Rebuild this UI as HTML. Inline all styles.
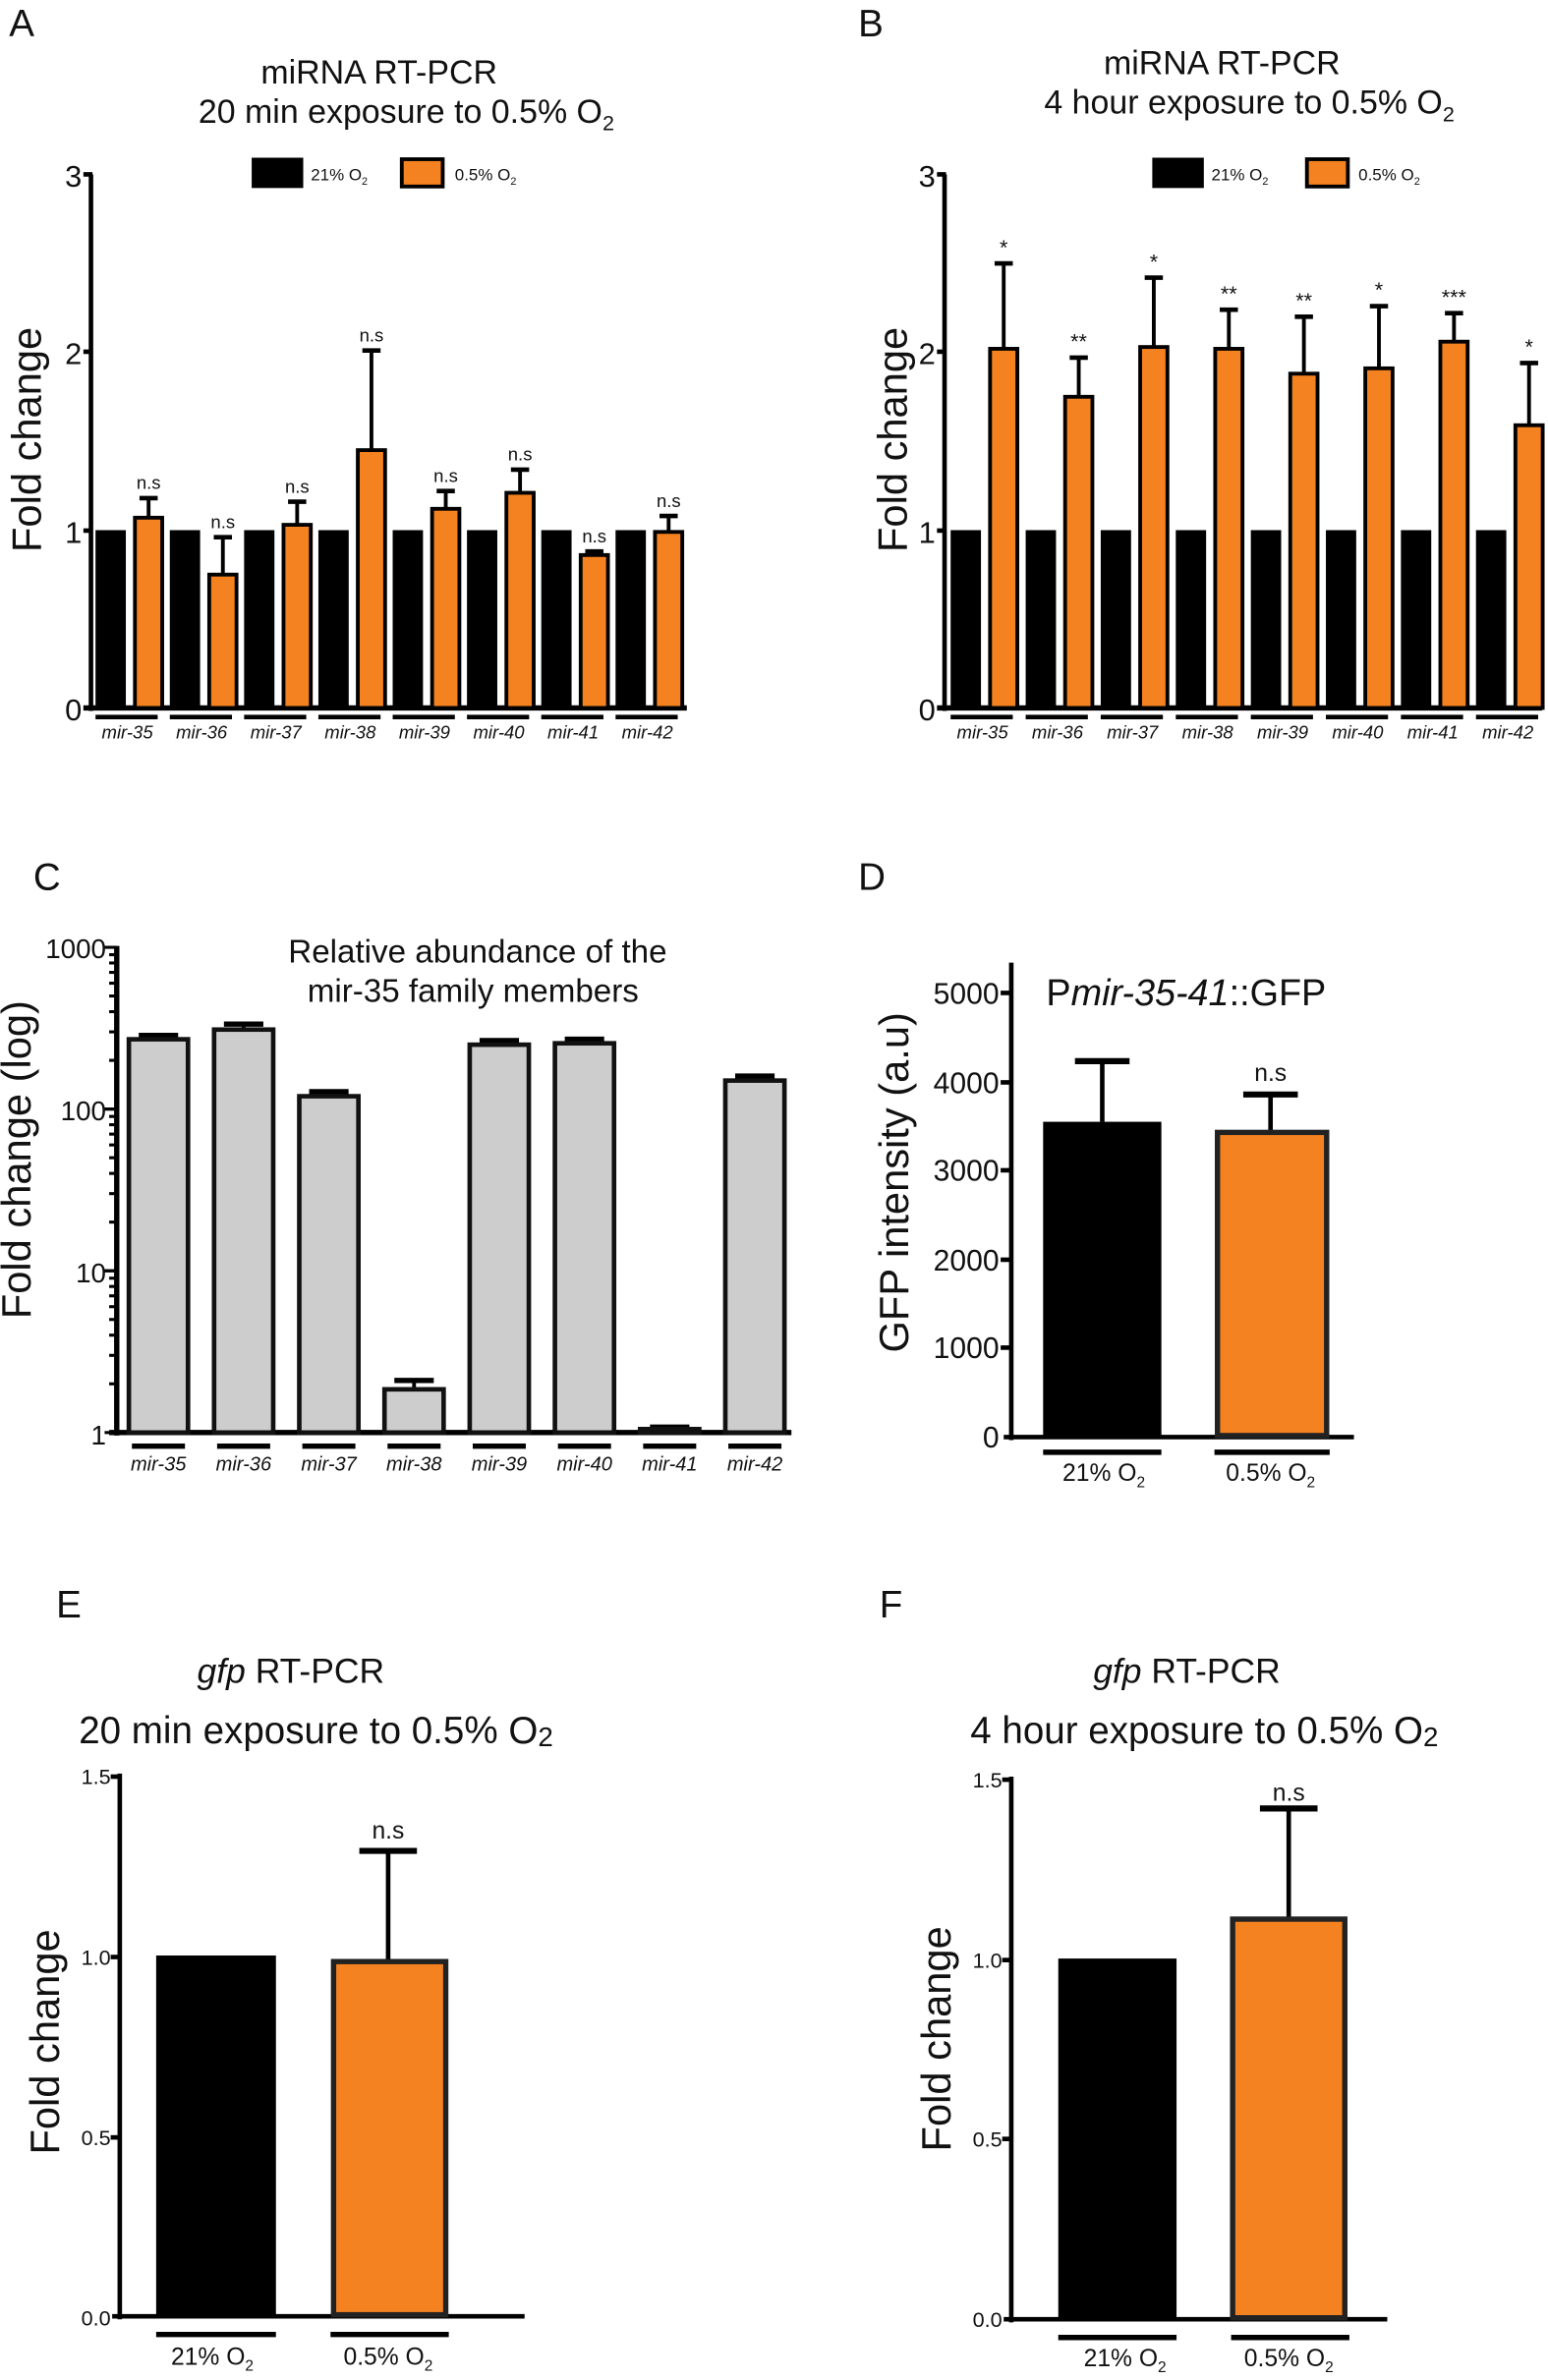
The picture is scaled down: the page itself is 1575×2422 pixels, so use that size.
<!DOCTYPE html>
<html><head><meta charset="utf-8"><style>
html,body{margin:0;padding:0;background:#fff}
svg{display:block}
text{font-family:"Liberation Sans",sans-serif;fill:#111}
.it{font-style:italic}
</style></head><body>
<svg width="1575" height="2422" viewBox="0 0 1021 1570" xmlns="http://www.w3.org/2000/svg">
<text x="6" y="24" font-size="25">A</text>
<text x="566" y="24" font-size="25">B</text>
<text x="22" y="587" font-size="25">C</text>
<text x="566" y="587" font-size="25">D</text>
<text x="37" y="1067" font-size="25">E</text>
<text x="580" y="1067" font-size="25">F</text>

<!-- ===== Panel A ===== -->
<text x="250" y="55" font-size="22" text-anchor="middle">miRNA RT-PCR</text>
<text x="268" y="81" font-size="22" text-anchor="middle">20 min exposure to 0.5% O<tspan font-size="14" dy="5">2</tspan></text>
<rect x="166" y="104" width="34" height="20" fill="#000"/>
<text x="205" y="119" font-size="11">21% O<tspan font-size="7" dy="3">2</tspan></text>
<rect x="265" y="105" width="27" height="18" fill="#f58220" stroke="#000" stroke-width="2.5"/>
<text x="300" y="119" font-size="11">0.5% O<tspan font-size="7" dy="3">2</tspan></text>
<text transform="translate(27,290) rotate(-90)" font-size="27" text-anchor="middle">Fold change</text>
<line x1="60" y1="115" x2="60" y2="469" stroke="#000" stroke-width="3"/>
<line x1="55" y1="467" x2="453" y2="467" stroke="#000" stroke-width="3.5"/>
<g stroke="#000" stroke-width="3"><line x1="55" y1="115" x2="61" y2="115"/><line x1="55" y1="232" x2="61" y2="232"/><line x1="55" y1="350" x2="61" y2="350"/></g>
<g font-size="20" text-anchor="end"><text x="54" y="123">3</text><text x="54" y="240">2</text><text x="54" y="358">1</text><text x="54" y="475">0</text></g>
<g id="barsA"></g>

<!-- ===== Panel B ===== -->
<text x="806" y="49" font-size="22" text-anchor="middle">miRNA RT-PCR</text>
<text x="824" y="75" font-size="22" text-anchor="middle">4 hour exposure to 0.5% O<tspan font-size="14" dy="5">2</tspan></text>
<rect x="760" y="104" width="34" height="20" fill="#000"/>
<text x="799" y="119" font-size="11">21% O<tspan font-size="7" dy="3">2</tspan></text>
<rect x="862" y="105" width="27" height="18" fill="#f58220" stroke="#000" stroke-width="2.5"/>
<text x="896" y="119" font-size="11">0.5% O<tspan font-size="7" dy="3">2</tspan></text>
<text transform="translate(598,290) rotate(-90)" font-size="27" text-anchor="middle">Fold change</text>
<line x1="623" y1="115" x2="623" y2="469" stroke="#000" stroke-width="3"/>
<line x1="618" y1="467" x2="1017" y2="467" stroke="#000" stroke-width="3.5"/>
<g stroke="#000" stroke-width="3"><line x1="618" y1="115" x2="624" y2="115"/><line x1="618" y1="232" x2="624" y2="232"/><line x1="618" y1="350" x2="624" y2="350"/></g>
<g font-size="20" text-anchor="end"><text x="617" y="123">3</text><text x="617" y="240">2</text><text x="617" y="358">1</text><text x="617" y="475">0</text></g>
<g id="barsB"></g>

<!-- ===== Panel C ===== -->
<text x="315" y="635" font-size="21.5" text-anchor="middle">Relative abundance of the</text>
<text x="312" y="661" font-size="21.5" text-anchor="middle">mir-35 family members</text>
<text transform="translate(20,765) rotate(-90)" font-size="27" text-anchor="middle">Fold change (log)</text>
<line x1="77" y1="624" x2="77" y2="947" stroke="#000" stroke-width="3.5"/>
<line x1="72" y1="945" x2="522" y2="945" stroke="#000" stroke-width="3.5"/>
<g id="ticksC" stroke="#000" stroke-width="2"></g>
<g font-size="18" text-anchor="end"><text x="70" y="632">1000</text><text x="70" y="739">100</text><text x="70" y="846">10</text><text x="70" y="953">1</text></g>
<g id="barsC"></g>

<!-- ===== Panel D ===== -->
<text x="690" y="663" font-size="24.5">P<tspan class="it">mir-35-41</tspan>::GFP</text>
<text transform="translate(599,780) rotate(-90)" font-size="27" text-anchor="middle">GFP intensity (a.u)</text>
<line x1="667" y1="635" x2="667" y2="950" stroke="#000" stroke-width="3"/>
<line x1="662" y1="948" x2="893" y2="948" stroke="#000" stroke-width="3"/>
<g stroke="#000" stroke-width="3">
<line x1="660" y1="655" x2="667" y2="655"/><line x1="660" y1="714" x2="667" y2="714"/><line x1="660" y1="772" x2="667" y2="772"/><line x1="660" y1="831" x2="667" y2="831"/><line x1="660" y1="889" x2="667" y2="889"/></g>
<g font-size="19.5" text-anchor="end"><text x="659" y="662">5000</text><text x="659" y="721">4000</text><text x="659" y="779">3000</text><text x="659" y="838">2000</text><text x="659" y="896">1000</text><text x="659" y="955">0</text></g>
<line x1="727" y1="740" x2="727" y2="700" stroke="#000" stroke-width="3"/><line x1="709" y1="700" x2="745" y2="700" stroke="#000" stroke-width="4"/>
<rect x="688" y="740" width="78" height="208" fill="#000"/>
<line x1="838" y1="748" x2="838" y2="722" stroke="#000" stroke-width="3"/><line x1="820" y1="722" x2="856" y2="722" stroke="#000" stroke-width="4"/>
<rect x="803" y="747" width="72" height="200" fill="#f58220" stroke="#222" stroke-width="3.5"/>
<text x="838" y="713" font-size="16" text-anchor="middle">n.s</text>
<line x1="688" y1="958" x2="766" y2="958" stroke="#000" stroke-width="3.5"/>
<line x1="801" y1="958" x2="877" y2="958" stroke="#000" stroke-width="3.5"/>
<text x="728" y="977" font-size="16" text-anchor="middle">21% O<tspan font-size="10" dy="4">2</tspan></text>
<text x="838" y="977" font-size="16" text-anchor="middle">0.5% O<tspan font-size="10" dy="4">2</tspan></text>

<!-- ===== Panel E ===== -->
<text x="130" y="1110" font-size="23"><tspan class="it">gfp</tspan> RT-PCR</text>
<text x="52" y="1150" font-size="25">20 min exposure to 0.5% O<tspan font-size="18" dy="2">2</tspan></text>
<text transform="translate(39,1347) rotate(-90)" font-size="27" text-anchor="middle">Fold change</text>
<line x1="79" y1="1170" x2="79" y2="1530" stroke="#000" stroke-width="3"/>
<line x1="74" y1="1528" x2="346" y2="1528" stroke="#000" stroke-width="3"/>
<g stroke="#000" stroke-width="3"><line x1="73" y1="1172" x2="79" y2="1172"/><line x1="73" y1="1291" x2="79" y2="1291"/><line x1="73" y1="1410" x2="79" y2="1410"/></g>
<g font-size="14" text-anchor="end"><text x="73" y="1177">1.5</text><text x="73" y="1296">1.0</text><text x="73" y="1415">0.5</text><text x="73" y="1534">0.0</text></g>
<rect x="103" y="1290" width="79" height="238" fill="#000"/>
<line x1="256" y1="1294" x2="256" y2="1221" stroke="#000" stroke-width="3"/><line x1="237" y1="1221" x2="275" y2="1221" stroke="#000" stroke-width="4"/>
<rect x="220" y="1294" width="74" height="233" fill="#f58220" stroke="#222" stroke-width="3.5"/>
<text x="256" y="1213" font-size="16" text-anchor="middle">n.s</text>
<line x1="103" y1="1540" x2="182" y2="1540" stroke="#000" stroke-width="3.5"/>
<line x1="218" y1="1540" x2="296" y2="1540" stroke="#000" stroke-width="3.5"/>
<text x="140" y="1560" font-size="16" text-anchor="middle">21% O<tspan font-size="10" dy="4">2</tspan></text>
<text x="256" y="1560" font-size="16" text-anchor="middle">0.5% O<tspan font-size="10" dy="4">2</tspan></text>

<!-- ===== Panel F ===== -->
<text x="721" y="1110" font-size="23"><tspan class="it">gfp</tspan> RT-PCR</text>
<text x="640" y="1150" font-size="25">4 hour exposure to 0.5% O<tspan font-size="18" dy="2">2</tspan></text>
<text transform="translate(627,1345) rotate(-90)" font-size="27" text-anchor="middle">Fold change</text>
<line x1="667" y1="1172" x2="667" y2="1532" stroke="#000" stroke-width="3"/>
<line x1="662" y1="1530" x2="915" y2="1530" stroke="#000" stroke-width="3"/>
<g stroke="#000" stroke-width="3"><line x1="661" y1="1174" x2="667" y2="1174"/><line x1="661" y1="1293" x2="667" y2="1293"/><line x1="661" y1="1411" x2="667" y2="1411"/></g>
<g font-size="14" text-anchor="end"><text x="661" y="1179">1.5</text><text x="661" y="1298">1.0</text><text x="661" y="1416">0.5</text><text x="661" y="1535">0.0</text></g>
<rect x="698" y="1292" width="78" height="238" fill="#000"/>
<line x1="850" y1="1266" x2="850" y2="1193" stroke="#000" stroke-width="3"/><line x1="831" y1="1193" x2="869" y2="1193" stroke="#000" stroke-width="4"/>
<rect x="813" y="1266" width="74" height="263" fill="#f58220" stroke="#222" stroke-width="3.5"/>
<text x="850" y="1188" font-size="16" text-anchor="middle">n.s</text>
<line x1="698" y1="1542" x2="776" y2="1542" stroke="#000" stroke-width="3.5"/>
<line x1="812" y1="1542" x2="890" y2="1542" stroke="#000" stroke-width="3.5"/>
<text x="742" y="1561" font-size="16" text-anchor="middle">21% O<tspan font-size="10" dy="4">2</tspan></text>
<text x="850" y="1561" font-size="16" text-anchor="middle">0.5% O<tspan font-size="10" dy="4">2</tspan></text>
</svg>
<script>
(function(){
var NS="http://www.w3.org/2000/svg";
function el(p,t,a,txt){var e=document.createElementNS(NS,t);for(var k in a)e.setAttribute(k,a[k]);if(txt!=null)e.textContent=txt;p.appendChild(e);return e;}
var names=["mir-35","mir-36","mir-37","mir-38","mir-39","mir-40","mir-41","mir-42"];
function grouped(id,x0,pitch,vals,errs,stars){
 var g=document.getElementById(id),y0=467,u=117.3;
 for(var i=0;i<8;i++){
  var bx=x0+pitch*i;
  el(g,"rect",{x:bx,y:y0-u,width:20,height:u,fill:"#000"});
  var ox=bx+26,oy=y0-vals[i]*u,ey=y0-errs[i]*u,cx=ox+9;
  el(g,"line",{x1:cx,y1:oy,x2:cx,y2:ey,stroke:"#000","stroke-width":2.5});
  el(g,"line",{x1:cx-6,y1:ey,x2:cx+6,y2:ey,stroke:"#000","stroke-width":3});
  el(g,"rect",{x:ox,y:oy,width:18,height:y0-oy,fill:"#f58220",stroke:"#000","stroke-width":2.5});
  el(g,"text",{x:cx,y:ey-6,"font-size":stars[i]=="n.s"?12:14,"text-anchor":"middle"},stars[i]);
  el(g,"line",{x1:bx,y1:473,x2:bx+41,y2:473,stroke:"#000","stroke-width":3});
  el(g,"text",{x:bx+21,y:487,"font-size":12,"text-anchor":"middle","font-style":"italic"},names[i]);
 }
}
grouped("barsA",63,49,[1.07,0.75,1.03,1.45,1.12,1.21,0.86,0.99],[1.18,0.96,1.16,2.01,1.22,1.34,0.88,1.08],["n.s","n.s","n.s","n.s","n.s","n.s","n.s","n.s"]);
grouped("barsB",627,49.5,[2.02,1.75,2.03,2.02,1.88,1.91,2.06,1.59],[2.50,1.97,2.42,2.24,2.20,2.26,2.22,1.94],["*","**","*","**","**","*","***","*"]);
var gt=document.getElementById("ticksC"),y1=945,dec=106.7;
for(var d=0;d<3;d++)for(var m=1;m<=10;m++){var y=y1-(d+Math.log10(m))*dec;var L=(m==1||m==10)?8:5;el(gt,"line",{x1:77-L,y1:y,x2:77,y2:y});}
var gc=document.getElementById("barsC");
var cv=[270,310,120,1.85,250,255,1.05,150],ce=[285,335,128,2.1,265,270,1.08,160];
for(var i=0;i<8;i++){
 var bx=85+56.2*i,w=39,cx=bx+w/2,ty=y1-Math.log10(cv[i])*dec,ey=y1-Math.log10(ce[i])*dec;
 el(gc,"line",{x1:cx,y1:ty,x2:cx,y2:ey,stroke:"#000","stroke-width":2.5});
 el(gc,"line",{x1:cx-13,y1:ey,x2:cx+13,y2:ey,stroke:"#000","stroke-width":3.5});
 el(gc,"rect",{x:bx,y:ty,width:w,height:y1-ty,fill:"#cdcdcd",stroke:"#111","stroke-width":3});
 el(gc,"line",{x1:bx+2,y1:954,x2:bx+w-2,y2:954,stroke:"#000","stroke-width":3.5});
 el(gc,"text",{x:cx,y:970,"font-size":13,"text-anchor":"middle","font-style":"italic"},names[i]);
}
})();
</script>
</body></html>
